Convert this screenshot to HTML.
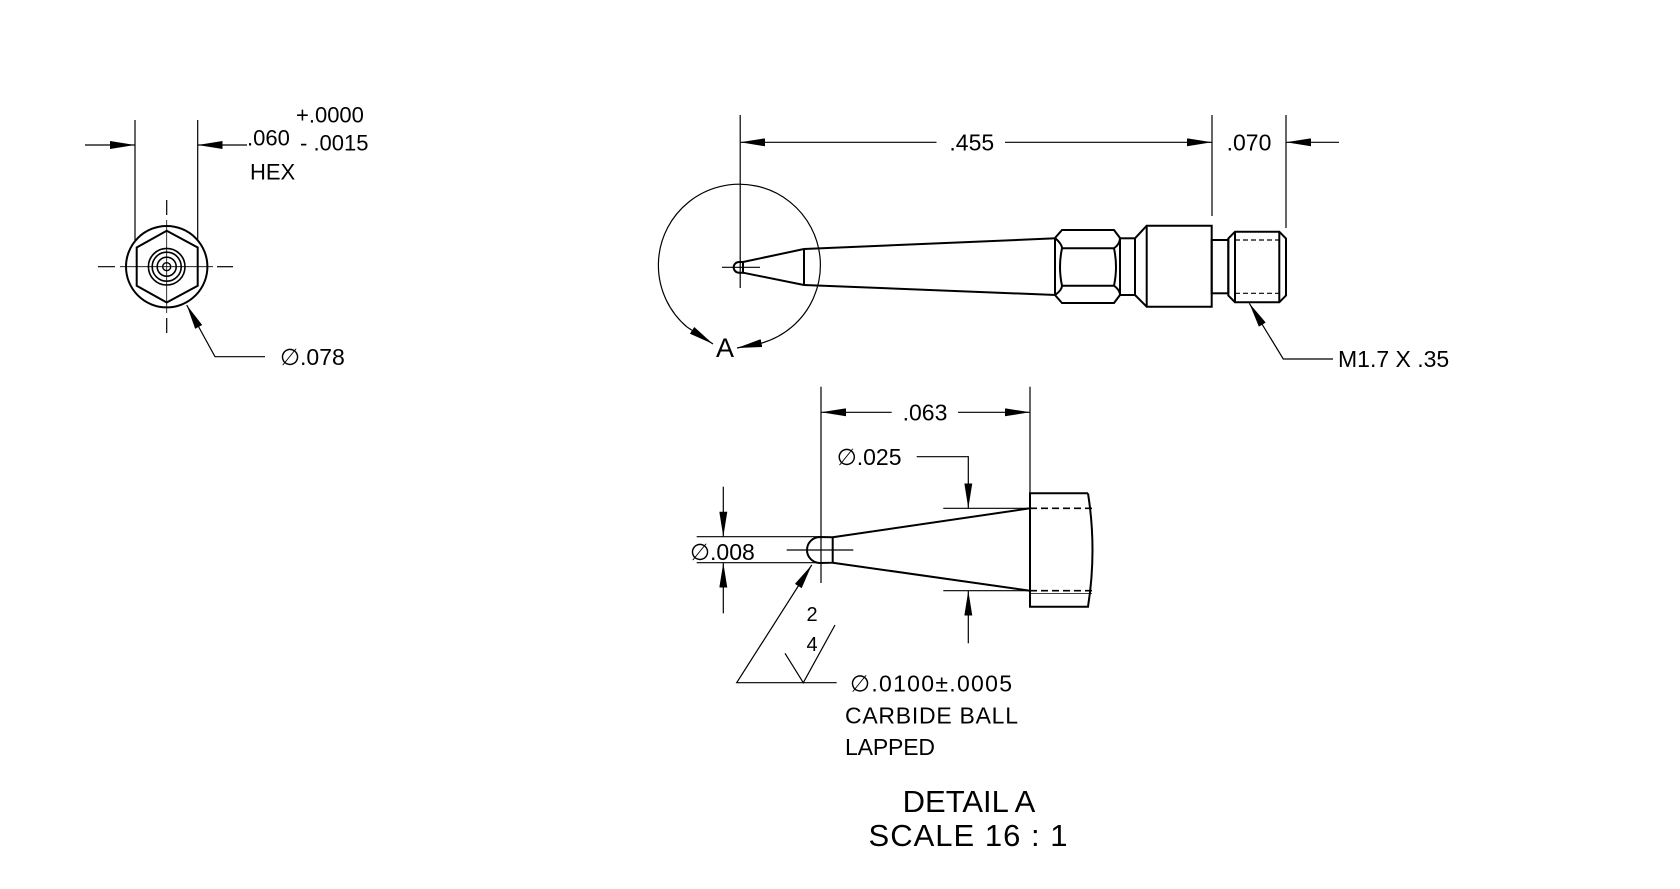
<!DOCTYPE html>
<html><head><meta charset="utf-8"><style>
html,body{margin:0;padding:0;background:#fff;}
svg{display:block;}
text{font-family:"Liberation Sans",sans-serif;fill:#000;}
</style></head><body>
<svg width="1680" height="889" viewBox="0 0 1680 889" xmlns="http://www.w3.org/2000/svg">
<defs>
<marker id="ar" viewBox="0 0 25 8" refX="25" refY="4" markerWidth="25" markerHeight="8" markerUnits="userSpaceOnUse" orient="auto"><path d="M0,0 L25,4 L0,8 Z" fill="#000"/></marker>
</defs>
<g stroke="#000" fill="none" stroke-width="1.2">
<!-- LEFT VIEW -->
<line x1="135" y1="120" x2="135" y2="240"/>
<line x1="197.7" y1="120" x2="197.7" y2="240"/>
<line x1="85" y1="145" x2="135" y2="145" marker-end="url(#ar)"/>
<line x1="247" y1="145" x2="197.7" y2="145" marker-end="url(#ar)"/>
<circle cx="166.7" cy="266.7" r="40.7" stroke-width="2"/>
<polygon points="166.7,230.8 197.7,247.5 197.7,285.8 166.7,302.5 136.7,285.8 136.7,247.5" stroke-width="2"/>
<circle cx="166.7" cy="266.7" r="18.3" stroke-width="1.6"/>
<circle cx="166.7" cy="266.7" r="14.5" stroke-width="1.6"/>
<circle cx="166.7" cy="266.7" r="9.5" stroke-width="1.6"/>
<circle cx="166.7" cy="266.7" r="4" stroke-width="1.4"/>
<line x1="98" y1="266.7" x2="115" y2="266.7"/><line x1="120" y1="266.7" x2="213" y2="266.7" stroke-width="0.8"/><line x1="217" y1="266.7" x2="233" y2="266.7"/>
<line x1="166.7" y1="200" x2="166.7" y2="215"/><line x1="166.7" y1="220" x2="166.7" y2="313" stroke-width="0.8"/><line x1="166.7" y1="318" x2="166.7" y2="333"/>
<polyline points="265,356.7 215,356.7 186.7,305" marker-end="url(#ar)"/>

<!-- MAIN VIEW -->
<line x1="740.2" y1="115" x2="740.2" y2="288"/>
<line x1="722" y1="267.3" x2="760" y2="267.3"/>
<line x1="1212" y1="115" x2="1212" y2="216"/>
<line x1="1286" y1="115" x2="1286" y2="228"/>
<line x1="936.5" y1="142.3" x2="740.2" y2="142.3" marker-end="url(#ar)"/>
<line x1="1005" y1="142.3" x2="1212" y2="142.3" marker-end="url(#ar)"/>
<line x1="1339" y1="142.3" x2="1286" y2="142.3" marker-end="url(#ar)"/>
<path d="M687,327 A81,81 0 1 1 762,343"/>
<line x1="687" y1="327" x2="713" y2="344" marker-end="url(#ar)"/>
<line x1="762" y1="343" x2="737" y2="348" marker-end="url(#ar)"/>
<g stroke-width="2">
<path d="M743,262 L739,262 A5.3,5.3 0 0 0 739,272.7 L743,272.7 Z"/>
<line x1="743" y1="262" x2="804" y2="249"/>
<line x1="743" y1="272.7" x2="804" y2="285"/>
<polyline points="804,249 804,285"/>
<line x1="804" y1="249" x2="1056" y2="238.3"/>
<line x1="804" y1="285" x2="1056" y2="295"/>
<path d="M1062,230 L1114,230 L1120,238 L1120,295 L1114,303 L1062,303 L1055,295 L1055,238 Z"/>
<path d="M1055,238 Q1062,244 1062,248.3 L1114,248.3 Q1120,244 1120,238"/>
<path d="M1062,248.3 Q1058,267 1062,285.7 M1114,248.3 Q1118,267 1114,285.7"/>
<path d="M1055,295 Q1062,290 1062,285.7 L1114,285.7 Q1120,290 1120,295"/>
<rect x="1120" y="238.3" width="15" height="56.7"/>
<path d="M1135,238.3 L1146.7,225.7 L1211.7,225.7 L1211.7,306.7 L1146.7,306.7 L1135,295"/>
<line x1="1146.7" y1="225.7" x2="1146.7" y2="306.7"/>
<rect x="1211.7" y="240" width="16.6" height="53.3"/>
<path d="M1235,231.7 L1279.3,231.7 L1286,238.5 L1286,295.5 L1279.3,302.3 L1235,302.3 L1228.3,295.5 L1228.3,238.5 Z"/>
<line x1="1235" y1="231.7" x2="1235" y2="302.3"/>
<line x1="1279.3" y1="231.7" x2="1279.3" y2="302.3"/>
</g>
<line x1="1235" y1="240" x2="1279.3" y2="240" stroke-dasharray="5,3"/>
<line x1="1235" y1="293.3" x2="1279.3" y2="293.3" stroke-dasharray="5,3"/>
<polyline points="1333,359 1283.3,359 1249.3,303.3" marker-end="url(#ar)"/>

<!-- DETAIL A -->
<line x1="821" y1="386.7" x2="821" y2="583"/>
<line x1="1030" y1="386.7" x2="1030" y2="493"/>
<line x1="891.7" y1="412.3" x2="821" y2="412.3" marker-end="url(#ar)"/>
<line x1="958" y1="412.3" x2="1030" y2="412.3" marker-end="url(#ar)"/>
<polyline points="916.7,456.7 968.3,456.7 968.3,508.3" marker-end="url(#ar)"/>
<line x1="943.3" y1="508.3" x2="1030" y2="508.3"/>
<line x1="943.3" y1="590.7" x2="1030" y2="590.7"/>
<line x1="968.3" y1="643.3" x2="968.3" y2="590.7" marker-end="url(#ar)"/>
<line x1="786.7" y1="550" x2="853.3" y2="550"/>
<g stroke-width="2">
<path d="M832.7,537.3 L820,537 A13,13 0 0 0 820,563 L832.7,562.7 Z"/>
<line x1="832.7" y1="537.3" x2="1030" y2="508.3"/>
<line x1="832.7" y1="562.7" x2="1030" y2="590.7"/>
<path d="M1088,493.3 L1030,493.3 L1030,606.7 L1088,606.7 Q1097,550 1088,493.3"/>
</g>
<line x1="1030" y1="508.3" x2="1092" y2="508.3" stroke-dasharray="7,4" stroke-width="1.6"/>
<line x1="1030" y1="590.7" x2="1092" y2="590.7" stroke-dasharray="7,4" stroke-width="1.6"/>
<line x1="1030" y1="593.5" x2="1092" y2="593.5" stroke-width="0.8"/>
<line x1="696.7" y1="536.7" x2="820" y2="536.7"/>
<line x1="696.7" y1="562.7" x2="820" y2="562.7"/>
<line x1="723.3" y1="486.7" x2="723.3" y2="536.7" marker-end="url(#ar)"/>
<line x1="723.3" y1="613.3" x2="723.3" y2="562.7" marker-end="url(#ar)"/>
<polyline points="836.7,682.7 736.7,682.7 811.7,565" marker-end="url(#ar)"/>
<polyline points="785,653.3 803.3,682.7 835,625"/>
</g>
<g font-size="23">
<text x="971.8" y="150.5" text-anchor="middle">.455</text>
<text x="1249" y="150.5" text-anchor="middle">.070</text>
<text x="247" y="145.5" font-size="22">.060</text>
<text x="296" y="122.5" font-size="22">+.0000</text>
<text x="300" y="150.5" font-size="22">- .0015</text>
<text x="250" y="179.5" font-size="22">HEX</text>
<text x="280" y="365">∅.078</text>
<text x="1338" y="367">M1.7 X .35</text>
<text x="725" y="357" font-size="27" text-anchor="middle">A</text>
<text x="925" y="420.5" text-anchor="middle">.063</text>
<text x="836.7" y="465">∅.025</text>
<text x="690" y="560">∅.008</text>
<text x="812" y="621" font-size="20" text-anchor="middle">2</text>
<text x="812" y="651" font-size="20" text-anchor="middle">4</text>
<text x="850" y="691.5" textLength="162">∅.0100±.0005</text>
<text x="845" y="723.5" textLength="173">CARBIDE BALL</text>
<text x="845" y="755" textLength="90">LAPPED</text>
<text x="969" y="812" font-size="31" text-anchor="middle">DETAIL A</text>
<text x="968" y="846" font-size="31" text-anchor="middle" textLength="199">SCALE 16 : 1</text>
</g>
</svg>
</body></html>
